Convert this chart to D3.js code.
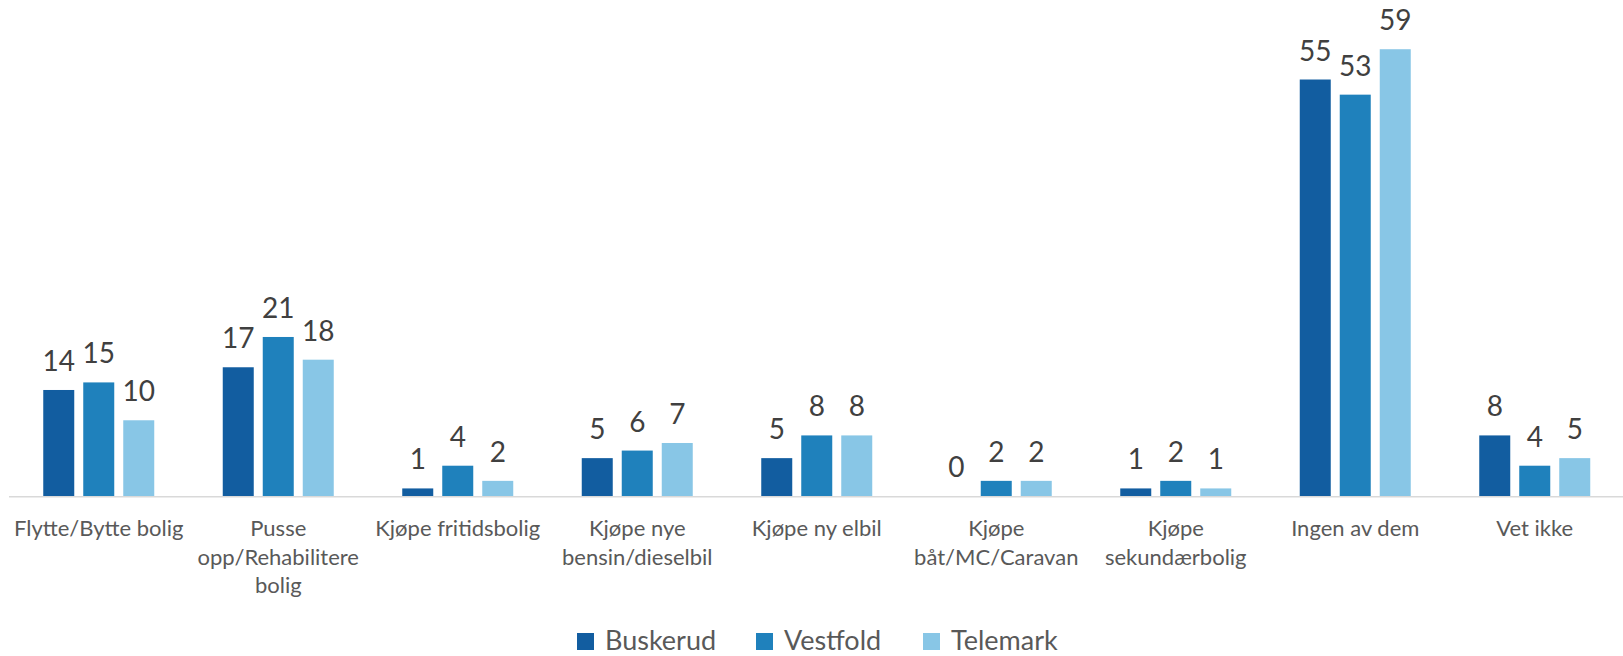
<!DOCTYPE html>
<html>
<head>
<meta charset="utf-8">
<script src="https://cdn.jsdelivr.net/npm/d3@7"></script>
<style>
  html, body { margin: 0; padding: 0; background: #fff; }
  svg { display: block; }
  text { font-family: Lato, "Open Sans", sans-serif; }
</style>
</head>
<body>
<svg id="chart" width="1623" height="656"></svg>
<script>
const categories = [
  ["Flytte/Bytte bolig"],
  ["Pusse", "opp/Rehabilitere", "bolig"],
  ["Kjøpe fritidsbolig"],
  ["Kjøpe nye", "bensin/dieselbil"],
  ["Kjøpe ny elbil"],
  ["Kjøpe", "båt/MC/Caravan"],
  ["Kjøpe", "sekundærbolig"],
  ["Ingen av dem"],
  ["Vet ikke"]
];
const seriesNames = ["Buskerud", "Vestfold", "Telemark"];
const buskerud = [14, 17, 1, 5, 5, 0, 1, 55, 8];
const vestfold = [15, 21, 4, 6, 8, 2, 2, 53, 4];
const telemark = [10, 18, 2, 7, 8, 2, 1, 59, 5];
const colors = ["#125DA0", "#1F81BC", "#88C6E6"];

const seriesValues = [buskerud, vestfold, telemark];
const catKeys = categories.map(c => c.join(" "));

const svg = d3.select("#chart");
const baseY = 496;

const x0 = d3.scaleBand().domain(catKeys).range([9, 1624.5]).paddingInner(0).paddingOuter(0);
const x1 = d3.scaleBand().domain(seriesNames).range([34.25, 145.25]).paddingInner(0.225).paddingOuter(0);
const y = d3.scaleLinear().domain([0, 65.5]).range([baseY, 0]);

const groups = svg.append("g").selectAll("g")
  .data(catKeys)
  .join("g")
  .attr("transform", d => `translate(${x0(d)},0)`);

groups.each(function(cat, ci) {
  const g = d3.select(this);
  const vals = seriesNames.map((s, si) => ({ s, si, v: seriesValues[si][ci] }));
  g.selectAll("rect")
    .data(vals)
    .join("rect")
    .attr("x", d => x1(d.s))
    .attr("width", x1.bandwidth())
    .attr("y", d => y(d.v))
    .attr("height", d => baseY - y(d.v))
    .attr("fill", d => colors[d.si]);
  g.selectAll("text.val")
    .data(vals)
    .join("text")
    .attr("class", "val")
    .attr("x", d => x1(d.s) + x1.bandwidth() / 2)
    .attr("y", d => y(d.v) - 19)
    .attr("text-anchor", "middle")
    .attr("font-size", 28)
    .attr("fill", "#404040")
    .text(d => d.v);
});

// axis line
svg.append("line")
  .attr("x1", 9).attr("x2", 1623)
  .attr("y1", baseY + 0.75).attr("y2", baseY + 0.75)
  .attr("stroke", "#D9D9D9").attr("stroke-width", 1.5);

// category labels
const xAxis = d3.axisBottom(x0).tickSize(0).tickFormat("");
const axisG = svg.append("g").attr("transform", `translate(0,${baseY})`).call(xAxis);
axisG.select(".domain").remove();
axisG.selectAll(".tick").each(function(d, i) {
  const t = d3.select(this).append("text")
    .attr("text-anchor", "middle")
    .attr("font-size", 22)
    .attr("fill", "#595959")
    .attr("font-family", "Lato, 'Open Sans', sans-serif");
  categories[i].forEach((line, li) => {
    t.append("tspan").attr("x", 0).attr("y", 40 + li * 28.5).text(line);
  });
});

// legend
const legendX = [577, 756, 923];
const legend = svg.append("g");
seriesNames.forEach((s, i) => {
  legend.append("rect")
    .attr("x", legendX[i]).attr("y", 633)
    .attr("width", 17).attr("height", 17)
    .attr("fill", colors[i]);
  legend.append("text")
    .attr("x", legendX[i] + 28).attr("y", 650)
    .attr("font-size", 27)
    .attr("fill", "#595959")
    .text(s);
});
</script>
</body>
</html>
